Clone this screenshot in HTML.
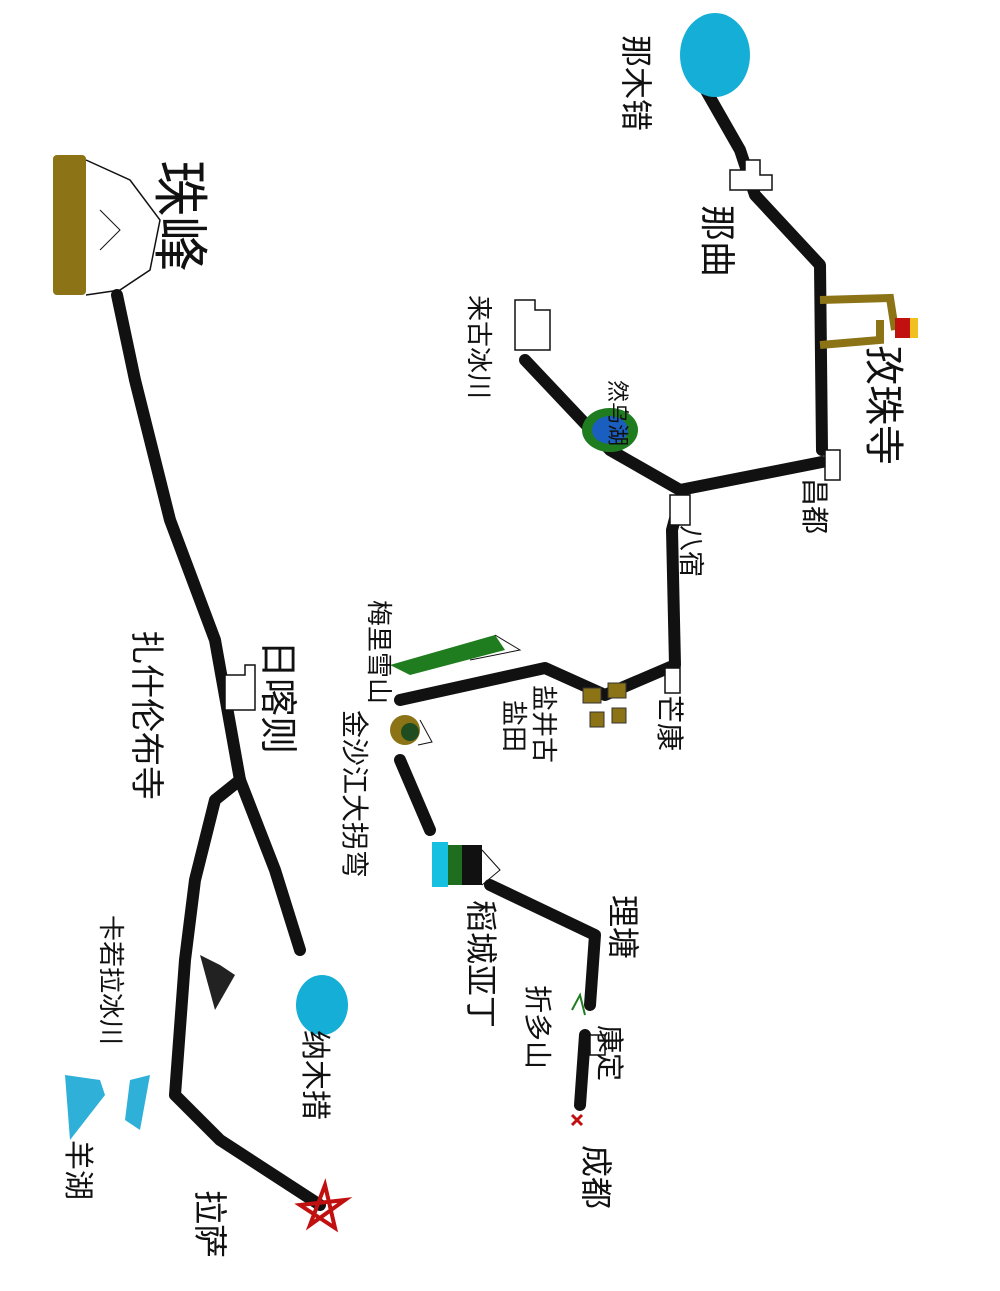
<!DOCTYPE html>
<html><head><meta charset="utf-8"><style>
html,body{margin:0;padding:0;background:#fff;}
svg{display:block}
text{font-family:"Liberation Sans","Noto Sans CJK SC",sans-serif;fill:#111;}
</style></head><body>
<svg width="1000" height="1291" viewBox="0 0 1000 1291" xmlns="http://www.w3.org/2000/svg">
<g fill="none" stroke="#111" stroke-width="12" stroke-linecap="round" stroke-linejoin="round">
<path d="M117,295 L135,380 L170,520 L215,640 L240,780"/>
<path d="M240,780 L275,870 L300,950"/>
<path d="M240,780 L215,800 L195,880 L185,960 L175,1095 L220,1140 L320,1205"/>
<path d="M700,80 L740,150 L755,195 L820,265 L822,450"/>
<path d="M822,462 L680,490 L610,450 L525,360"/>
<path d="M680,500 L672,530 L675,665 L605,695 L545,668 L400,700"/>
<path d="M400,760 L430,830"/>
<path d="M490,885 L595,935 L590,1005"/>
<path d="M585,1035 L580,1105"/>
</g>
<!-- Everest -->
<rect x="53" y="155" width="33" height="140" fill="#8b7316" rx="4"/>
<path d="M86,160 L130,180 L160,220 L150,270 L120,290 L86,295" fill="none" stroke="#111" stroke-width="1.5"/>
<path d="M100,210 L120,230 L100,250" fill="none" stroke="#111" stroke-width="1"/>
<!-- lakes -->
<ellipse cx="715" cy="55" rx="35" ry="42" fill="#15aed6"/>
<ellipse cx="322" cy="1005" rx="26" ry="30" fill="#15aed6"/>
<ellipse cx="610" cy="430" rx="28" ry="22" fill="#1f7d1f"/>
<ellipse cx="610" cy="430" rx="18" ry="14" fill="#1a5fc0"/>
<!-- buildings -->
<g fill="#fff" stroke="#111" stroke-width="1.5">
<path d="M730,170 h15 v-10 h15 v15 h12 v15 h-42 z"/>
<path d="M825,450 h15 v30 h-15 z"/>
<path d="M670,495 h20 v30 h-20 z"/>
<path d="M665,668 h15 v25 h-15 z"/>
<path d="M225,675 h20 v-10 h10 v45 h-30 z"/>
<path d="M515,300 h20 v10 h15 v40 h-35 z"/>
<path d="M590,1035 h15 v20 h-15 z"/>
</g>
<!-- monastery -->
<path d="M820,300 L890,298 L895,330 M820,345 L880,340 L880,320" fill="none" stroke="#8b7316" stroke-width="8"/>
<rect x="895" y="318" width="15" height="20" fill="#c01010"/>
<rect x="910" y="318" width="8" height="20" fill="#f0c020"/>
<!-- salt fields -->
<g fill="#8b7316" stroke="#333"><rect x="583" y="688" width="18" height="15"/><rect x="608" y="683" width="18" height="15"/><rect x="590" y="712" width="14" height="15"/><rect x="612" y="708" width="14" height="15"/></g>
<!-- Meili -->
<path d="M390,665 L495,635 L505,650 L410,675 z" fill="#1f7d1f"/>
<path d="M495,635 L520,650 L470,660" fill="none" stroke="#111" stroke-width="1"/>
<circle cx="405" cy="730" r="15" fill="#8b7316"/><circle cx="410" cy="732" r="9" fill="#1f4d1f"/>
<path d="M420,720 L432,742 L418,745" fill="none" stroke="#111" stroke-width="1"/>
<!-- Daocheng -->
<rect x="432" y="842" width="16" height="45" fill="#15c0e0"/>
<rect x="448" y="845" width="14" height="40" fill="#1f6d1f"/>
<rect x="462" y="845" width="20" height="40" fill="#111"/>
<path d="M482,850 L500,870 L482,885" fill="none" stroke="#111" stroke-width="1"/>
<!-- Karola glacier -->
<path d="M200,955 L215,1010 L235,975 L220,965 z" fill="#222"/>
<!-- Yamdrok -->
<path d="M65,1075 L100,1080 L105,1095 L70,1140 z" fill="#2fb0d8"/>
<path d="M130,1080 L150,1075 L140,1130 L125,1120 z" fill="#2fb0d8"/>
<!-- star -->
<path d="M300,1205 L345,1200 L310,1225 L325,1185 L335,1228 z" fill="none" stroke="#c01010" stroke-width="4"/>
<path d="M572,1115 l10,10 M582,1115 l-10,10" stroke="#c01010" stroke-width="3"/>
<path d="M572,1010 L580,995 L585,1015" fill="none" stroke="#1f7d1f" stroke-width="2"/>
<!-- labels -->
<g>
<text transform="translate(160,160) rotate(90)" font-size="56">珠峰</text>
<text transform="translate(265,640) rotate(90)" font-size="38">日喀则</text>
<text transform="translate(135,630) rotate(90)" font-size="34">扎什伦布寺</text>
<text transform="translate(102,915) rotate(90)" font-size="26">卡若拉冰川</text>
<text transform="translate(305,1030) rotate(90)" font-size="30">纳木措</text>
<text transform="translate(68,1140) rotate(90)" font-size="30">羊湖</text>
<text transform="translate(198,1190) rotate(90)" font-size="34">拉萨</text>
<text transform="translate(625,35) rotate(90)" font-size="32">那木错</text>
<text transform="translate(705,205) rotate(90)" font-size="36">那曲</text>
<text transform="translate(870,345) rotate(90)" font-size="40">孜珠寺</text>
<text transform="translate(805,478) rotate(90)" font-size="28">昌都</text>
<text transform="translate(682,525) rotate(90)" font-size="26">八宿</text>
<text transform="translate(660,695) rotate(90)" font-size="28">芒康</text>
<text transform="translate(535,685) rotate(90)" font-size="26">盐井古</text>
<text transform="translate(505,700) rotate(90)" font-size="26">盐田</text>
<text transform="translate(370,600) rotate(90)" font-size="26">梅里雪山</text>
<text transform="translate(345,710) rotate(90)" font-size="28">金沙江大拐弯</text>
<text transform="translate(470,900) rotate(90)" font-size="32">稻城亚丁</text>
<text transform="translate(612,895) rotate(90)" font-size="32">理塘</text>
<text transform="translate(528,985) rotate(90)" font-size="28">折多山</text>
<text transform="translate(600,1025) rotate(90)" font-size="28">康定</text>
<text transform="translate(585,1145) rotate(90)" font-size="32">成都</text>
<text transform="translate(470,295) rotate(90)" font-size="26">来古冰川</text>
<text transform="translate(610,380) rotate(90)" font-size="22">然乌湖</text>
</g>
</svg>
</body></html>
